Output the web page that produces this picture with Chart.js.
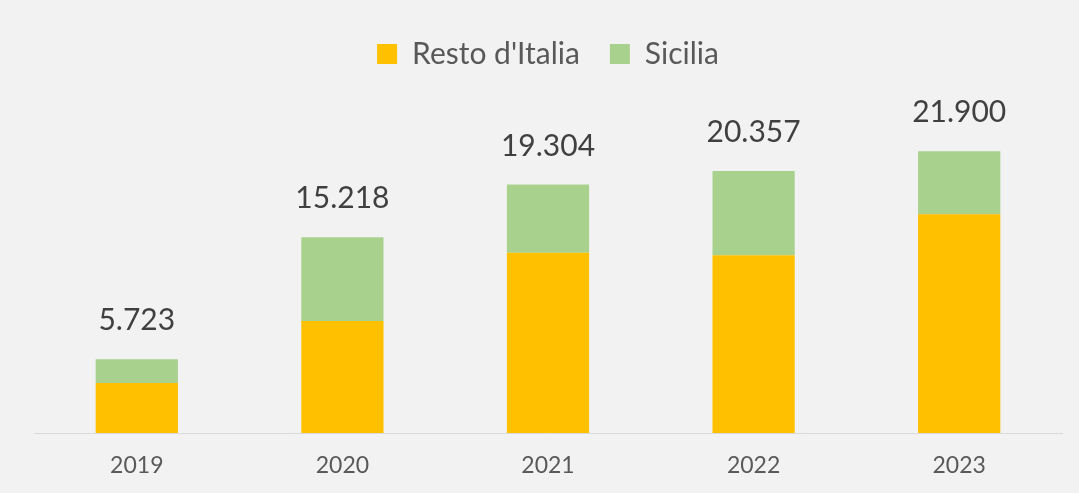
<!DOCTYPE html>
<html>
<head>
<meta charset="utf-8">
<script src="https://cdn.jsdelivr.net/npm/chart.js@4/dist/chart.umd.min.js"></script>
<style>
  html, body { margin: 0; padding: 0; background: #f2f2f2; }
  #wrap { width: 1079px; height: 493px; }
</style>
</head>
<body>
<div id="wrap"><canvas id="chart" width="1079" height="493"></canvas></div>
<script>
const years = ["2019", "2020", "2021", "2022", "2023"];
const restoItalia = [3887, 8707, 14017, 13815, 17002];
const sicilia = [1836, 6511, 5287, 6542, 4898];
const totals = [5723, 15218, 19304, 20357, 21900];

// etichette dei totali sopra le colonne
const totalLabels = {
    id: "totalLabels",
    afterDatasetsDraw(chart) {
        const ctx = chart.ctx;
        const meta = chart.getDatasetMeta(1);
        ctx.save();
        ctx.font = "30px Lato";
        ctx.fillStyle = "#404040";
        ctx.textAlign = "center";
        ctx.textBaseline = "alphabetic";
        meta.data.forEach((bar, i) => {
            ctx.fillText(totals[i].toLocaleString("it-IT"), bar.x, bar.y - 29);
        });
        ctx.restore();
    },
};

new Chart(document.getElementById("chart"), {
    type: "bar",
    data: {
        labels: years,
        datasets: [
            {
                label: "Resto d'Italia",
                data: restoItalia,
                backgroundColor: "#ffc000",
                barPercentage: 0.4,
                categoryPercentage: 1,
            },
            {
                label: "Sicilia",
                data: sicilia,
                backgroundColor: "#a9d18e",
                barPercentage: 0.4,
                categoryPercentage: 1,
            },
        ],
    },
    options: {
        responsive: false,
        animation: false,
        layout: {
            padding: { top: 9, left: 34, right: 17, bottom: 0 },
        },
        plugins: {
            legend: {
                position: "top",
                labels: {
                    boxWidth: 20,
                    boxHeight: 20,
                    padding: 30,
                    color: "#595959",
                    font: { family: "Lato", size: 30 },
                },
            },
            tooltip: { enabled: false },
        },
        scales: {
            x: {
                stacked: true,
                grid: { display: false, drawTicks: false },
                border: { color: "#d9d9d9", width: 1 },
                ticks: {
                    color: "#595959",
                    font: { family: "Lato", size: 23 },
                    padding: 19,
                },
                afterFit(scale) {
                    scale.height = 60; // spazio fisso sotto l'asse
                },
            },
            y: {
                stacked: true,
                display: false,
                min: 0,
                max: 27510,
            },
        },
    },
    plugins: [totalLabels],
});
</script>
</body>
</html>
